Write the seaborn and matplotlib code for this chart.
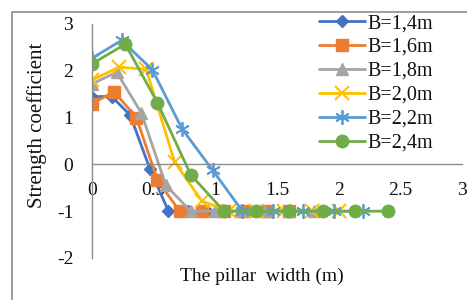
import matplotlib
matplotlib.use("Agg")
import matplotlib.pyplot as plt
import seaborn as sns
from matplotlib.patches import Rectangle

# ---- data ----
labels = ["B=1,4m", "B=1,6m", "B=1,8m", "B=2,0m", "B=2,2m", "B=2,4m"]

b14_x = [0, 0.16, 0.31, 0.47, 0.62, 0.78, 0.93, 1.09, 1.24, 1.4]
b14_y = [1.45, 1.45, 1.05, -0.1, -1, -1, -1, -1, -1, -1]

b16_x = [0, 0.18, 0.36, 0.53, 0.71, 0.89, 1.07, 1.24, 1.42, 1.6]
b16_y = [1.3, 1.55, 1.0, -0.33, -1, -1, -1, -1, -1, -1]

b18_x = [0, 0.2, 0.4, 0.6, 0.8, 1.0, 1.2, 1.4, 1.6, 1.8]
b18_y = [1.72, 1.97, 1.1, -0.45, -1, -1, -1, -1, -1, -1]

b20_x = [0, 0.22, 0.44, 0.67, 0.89, 1.11, 1.33, 1.56, 1.78, 2.0]
b20_y = [1.8, 2.08, 2.03, 0.05, -0.78, -1, -1, -1, -1, -1]

b22_x = [0, 0.24, 0.49, 0.73, 0.98, 1.22, 1.47, 1.71, 1.96, 2.2]
b22_y = [2.27, 2.65, 2.02, 0.76, -0.13, -1, -1, -1, -1, -1]

b24_x = [0, 0.27, 0.53, 0.8, 1.07, 1.33, 1.6, 1.87, 2.13, 2.4]
b24_y = [2.15, 2.57, 1.32, -0.22, -1, -1, -1, -1, -1, -1]

xs = [b14_x, b16_x, b18_x, b20_x, b22_x, b24_x]
ys = [b14_y, b16_y, b18_y, b20_y, b22_y, b24_y]

x_ticks = [0, 0.5, 1, 1.5, 2, 2.5, 3]
x_tick_labels = ["0", "0.5", "1", "1.5", "2", "2.5", "3"]
y_ticks = [-2, -1, 0, 1, 2, 3]
y_tick_labels = ["-2", "-1", "0", "1", "2", "3"]

# ---- styles ----
colors = ["#4472C4", "#ED7D31", "#A5A5A5", "#FFC000", "#5B9BD5", "#70AD47"]
markers = ["D", "s", "^", "x", (6, 2, 0), "o"]
msizes = [6.5, 8.5, 8.5, 9.5, 10.5, 9]
mews = [1, 1, 1, 1.5, 1.3, 1]
txt = "#111111"

sns.set_style("white")
plt.rcParams["font.family"] = ["Liberation Serif", "DejaVu Serif"]
plt.rcParams["font.size"] = 14

fig = plt.figure(figsize=(4.67, 3.0), dpi=100)
ax = fig.add_axes([92 / 467, 1 - 258 / 300, 370 / 467, 234 / 300])

for x, y, lab, c, m, ms, mew in zip(xs, ys, labels, colors, markers, msizes, mews):
    sns.lineplot(x=x, y=y, ax=ax, color=c, marker=m, markersize=ms,
                 markeredgecolor=c, markerfacecolor=c, markeredgewidth=mew,
                 linewidth=2.0, label=lab, sort=False)

ax.set_xlim(0, 3)
ax.set_ylim(-2, 3)
ax.set_xticks(x_ticks)
ax.set_xticklabels(x_tick_labels)
ax.set_yticks(y_ticks)
ax.set_yticklabels(y_tick_labels)
ax.set_xlabel("")
ax.set_ylabel("")

for s in ["top", "right"]:
    ax.spines[s].set_visible(False)
ax.spines["bottom"].set_position(("data", 0))
for s in ["left", "bottom"]:
    ax.spines[s].set_color("#8C8C8C")
    ax.spines[s].set_linewidth(1.0)
ax.tick_params(axis="x", direction="out", length=5.5, width=1.0, color="#8C8C8C",
               pad=7, labelsize=14, labelcolor=txt)
ax.tick_params(axis="y", direction="out", length=3.5, width=1.0, color="#8C8C8C",
               pad=10, labelsize=14, labelcolor=txt)
ax.grid(False)
ax.set_facecolor("none")

leg = ax.legend(loc="upper left", bbox_to_anchor=(319 / 467, 1 - 14 / 300),
                bbox_transform=fig.transFigure, frameon=False, fontsize=14.5,
                handlelength=2.3, handletextpad=0.12, labelspacing=0.24,
                borderaxespad=0, borderpad=0)
for t in leg.get_texts():
    t.set_color(txt)

fig.text(37 / 467, 1 - 125 / 300, "Strength coefficient", rotation=90,
         ha="center", va="center", fontsize=15, color=txt)
fig.text(180 / 467, 1 - 276 / 300, "The pillar  width (m)", ha="left",
         va="center", fontsize=14, color=txt)

# outer chart border (top and left edges visible)
fig.patches.append(Rectangle((12 / 467, -0.2), 1.2, 1 - 12 / 300 + 0.2,
                             transform=fig.transFigure, fill=False,
                             edgecolor="#8C8C8C", linewidth=1.2))

fig.savefig("out.png", dpi=100)
